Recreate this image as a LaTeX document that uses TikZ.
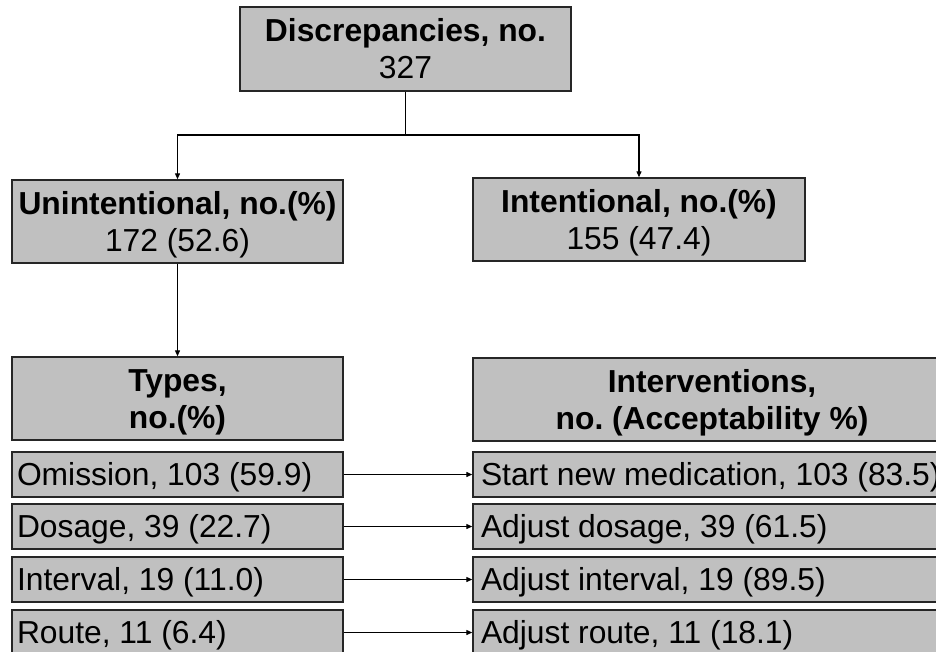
\documentclass[tikz,border=0pt]{standalone}
\usepackage{fontspec}
\setmainfont{Liberation Sans}
\usetikzlibrary{arrows.meta}
\definecolor{boxfill}{RGB}{192,192,192}
\definecolor{boxline}{RGB}{38,38,38}
\newcommand{\lrowtxt}[1]{\makebox[321pt][l]{#1}}
\newcommand{\rrowtxt}[1]{\makebox[462pt][l]{#1}}
\frenchspacing
\begin{document}
\begin{tikzpicture}[x=1pt,y=-1pt,
  box/.style={draw=boxline, line width=1.4pt, fill=boxfill, rectangle, inner sep=0pt,
    font=\fontsize{31.8}{37}\selectfont\frenchspacing},
  headbox/.style={box, align=center, text height=59.5pt, text depth=0pt},
  rowl/.style={box, inner xsep=5pt, minimum height=45pt, text height=22.7pt, text depth=0pt},
  rowr/.style={box, inner xsep=8pt, minimum height=45pt, text height=22.7pt, text depth=0pt},
  conn/.style={line width=1.2pt, black},
  arr/.style={conn, -{Triangle[length=6pt,width=5pt]}}]
\useasboundingbox (0,0) rectangle (936,652);
\clip (0,0) rectangle (936,652);
\fill[white] (0,0) rectangle (936,652);

\node[headbox, minimum width=331pt, minimum height=84pt] (top) at (405.5,49)
  {\textbf{Discrepancies, no.}\\327};
\node[headbox, minimum width=331pt, minimum height=83pt] (unint) at (177.5,221.5)
  {\textbf{Unintentional, no.(\%)}\\172 (52.6)};
\node[headbox, minimum width=332pt, minimum height=83pt] (int) at (639,219.5)
  {\textbf{Intentional, no.(\%)}\\155 (47.4)};
\node[headbox, minimum width=331pt, minimum height=83pt] (types) at (177.5,398.5)
  {\textbf{Types,}\\\textbf{no.(\%)}};
\node[headbox, minimum width=478pt, minimum height=83pt] (interv) at (712,399.5)
  {\textbf{Interventions,}\\\textbf{no. (Acceptability \%)}};

\node[rowl] (omis) at (177.5,474.5) {\lrowtxt{Omission, 103 (59.9)}};
\node[rowl] (dos)  at (177.5,526.5) {\lrowtxt{Dosage, 39 (22.7)}};
\node[rowl] (ivl)  at (177.5,579.5) {\lrowtxt{Interval, 19 (11.0)}};
\node[rowl] (rte)  at (177.5,632.5) {\lrowtxt{Route, 11 (6.4)}};

\node[rowr] (snm)  at (712,474.5) {\rrowtxt{Start new medication, 103 (83.5)}};
\node[rowr] (adod) at (712,526.5) {\rrowtxt{Adjust dosage, 39 (61.5)}};
\node[rowr] (adiv) at (712,579.5) {\rrowtxt{Adjust interval, 19 (89.5)}};
\node[rowr] (adro) at (712,632.5) {\rrowtxt{Adjust route, 11 (18.1)}};

\coordinate (j) at (405.5,135);
\draw[conn] (top.south) -- (j);
\draw[arr] (j) -| (unint.north);
\draw[arr] (j) -| (int.north);
\draw[arr] (unint.south) -- (types.north);

\draw[arr] (omis.east) -- (snm.west);
\draw[arr] (dos.east) -- (adod.west);
\draw[arr] (ivl.east) -- (adiv.west);
\draw[arr] (rte.east) -- (adro.west);
\end{tikzpicture}
\end{document}
